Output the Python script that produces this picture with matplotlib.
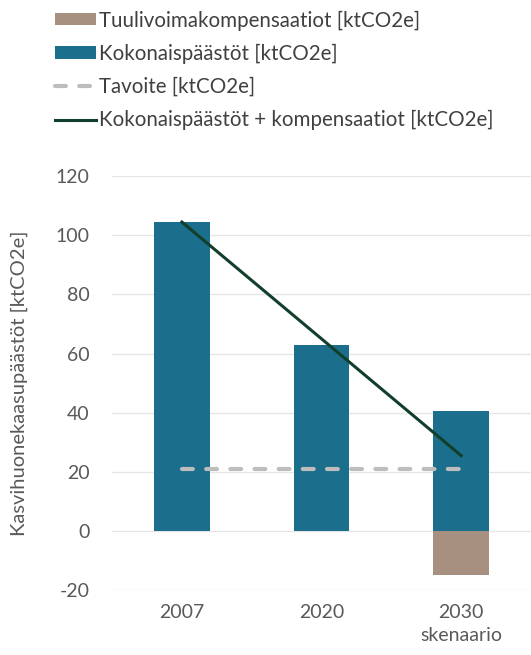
import matplotlib
matplotlib.use("Agg")
import matplotlib.pyplot as plt
import numpy as np

# data
categories = ["2007", "2020", "2030\nskenaario"]
kokonais = [104.5, 63, 40.5]          # Kokonaispäästöt [ktCO2e]
kompensaatiot = [0, 0, -15]           # Tuulivoimakompensaatiot [ktCO2e]
tavoite = [21, 21, 21]                # Tavoite [ktCO2e]
yhteensa = [104.5, 65, 25.5]          # Kokonaispäästöt + kompensaatiot
y_ticks = [-20, 0, 20, 40, 60, 80, 100, 120]

plt.rcParams['font.family'] = ['Lato', 'DejaVu Sans']
plt.rcParams['axes.unicode_minus'] = False

fig = plt.figure(figsize=(5.31, 6.55), dpi=100)
ax = fig.add_axes([0.211, 0.099, 0.789, 0.632])

x = np.arange(len(categories))
b1 = ax.bar(x, kompensaatiot, width=0.4, color='#A89080', zorder=2,
            label='Tuulivoimakompensaatiot [ktCO2e]')
b2 = ax.bar(x, kokonais, width=0.4, color='#1B6E8C', zorder=2,
            label='Kokonaispäästöt [ktCO2e]')
l1, = ax.plot(x, tavoite, color='#BDBDBD', lw=3, dashes=(2.6, 3.2),
              dash_capstyle='round', zorder=3, label='Tavoite [ktCO2e]')
l2, = ax.plot(x, yhteensa, color='#123F2B', lw=2.2, zorder=4,
              label='Kokonaispäästöt + kompensaatiot [ktCO2e]')

ax.set_xlim(-0.5, 2.5)
ax.set_ylim(-20, 120)
ax.set_yticks(y_ticks)
ax.set_xticks(x)
ax.set_xticklabels(categories, linespacing=1.4)
ax.yaxis.grid(True, color='#E6E6E6', lw=1, zorder=0)
for s in ax.spines.values():
    s.set_visible(False)
ax.tick_params(length=0, labelsize=14, colors='#595959', pad=10)
ax.tick_params(axis='y', pad=16)
ax.set_ylabel('Kasvihuonekaasupäästöt [ktCO2e]', fontsize=14.5, color='#595959',
              labelpad=20)

fig.legend(handles=[b1, b2, l1, l2], loc='upper left',
           bbox_to_anchor=(0.08, 1.003), frameon=False, fontsize=14.8,
           labelcolor='#404040', handlelength=2.0, handleheight=0.55,
           handletextpad=0.15, labelspacing=0.64, borderaxespad=0.2)

fig.savefig('out.png', dpi=100)
